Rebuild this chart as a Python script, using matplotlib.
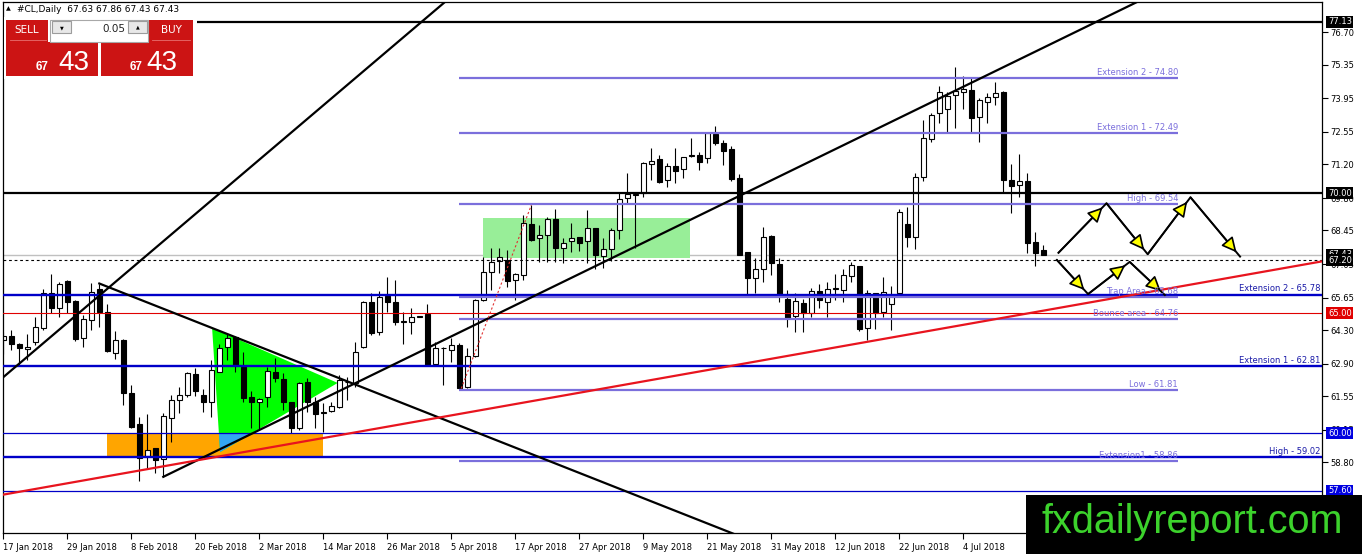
import matplotlib
matplotlib.use('Agg')
import matplotlib.pyplot as plt
from matplotlib.patches import Rectangle, Polygon
import numpy as np

# daily candles of #CL, bar index 0 = 17 Jan 2018
opens = [63.89, 64.05, 63.72, 63.51, 63.79, 64.37, 65.83, 65.21, 66.34, 65.51,
         63.96, 64.72, 66.01, 65.04, 63.33, 63.89, 61.67, 60.38, 59.07, 59.38,
         58.93, 60.63, 61.39, 61.60, 62.46, 61.60, 61.29, 62.57, 63.61, 64.03,
         62.78, 61.50, 61.29, 61.53, 62.54, 62.26, 61.29, 60.24, 62.12, 61.32,
         60.85, 60.93, 61.11, 62.12, 62.08, 63.61, 65.46, 64.23, 65.73, 65.48,
         64.65, 64.62, 64.86, 64.99, 62.87, 63.55, 63.47, 63.68, 61.94, 63.22,
         65.55, 66.71, 67.18, 67.20, 66.39, 66.59, 68.72, 68.12, 68.26, 68.91,
         67.70, 67.99, 68.16, 68.02, 68.54, 67.38, 67.66, 68.47, 69.79, 69.93,
         70.02, 71.20, 71.41, 70.55, 71.13, 70.99, 71.55, 71.59, 71.45, 72.46,
         72.08, 71.83, 70.62, 67.56, 66.45, 66.83, 68.22, 67.05, 65.58, 64.89,
         65.44, 65.02, 65.94, 65.48, 66.02, 65.97, 66.55, 66.97, 64.37, 65.83,
         65.07, 65.37, 65.86, 68.72, 68.16, 70.66, 72.24, 73.33, 73.49, 74.08,
         74.20, 74.30, 73.16, 73.81, 73.99, 74.23, 70.55, 70.35, 70.51, 67.98,
         67.63]
highs = [64.23, 64.30, 63.75, 64.12, 64.86, 66.01, 66.64, 66.32, 66.39, 65.55,
         64.93, 66.25, 66.20, 65.37, 64.26, 63.92, 62.01, 60.69, 60.79, 59.40,
         60.83, 61.60, 61.94, 62.57, 62.71, 61.85, 63.05, 63.71, 64.16, 64.07,
         63.37, 61.76, 61.46, 62.78, 63.12, 62.50, 61.32, 62.15, 62.32, 61.53,
         61.25, 61.32, 62.43, 62.36, 63.82, 65.51, 65.83, 65.94, 66.52, 66.39,
         65.07, 65.21, 64.88, 65.37, 63.82, 63.61, 63.96, 63.75, 63.54, 65.60,
         67.36, 67.70, 67.73, 67.64, 66.66, 69.10, 69.51, 68.68, 69.02, 69.33,
         68.12, 68.74, 68.16, 69.30, 68.54, 68.12, 68.54, 70.00, 70.83, 70.00,
         71.31, 71.87, 71.59, 71.24, 71.87, 71.52, 72.28, 71.73, 72.56, 72.80,
         72.22, 71.97, 70.80, 67.56, 67.29, 68.61, 68.26, 67.29, 65.97, 65.83,
         65.58, 66.04, 66.22, 66.32, 66.64, 66.83, 67.15, 66.97, 65.97, 65.83,
         66.50, 66.15, 69.33, 69.44, 70.83, 73.05, 73.33, 74.46, 74.23, 75.27,
         74.88, 74.78, 73.95, 74.19, 74.65, 74.27, 71.22, 71.62, 70.83, 68.40,
         67.86]
lows = [63.29, 63.47, 62.85, 63.05, 63.68, 64.30, 65.00, 64.86, 65.00, 63.85,
        63.61, 64.30, 64.44, 63.37, 63.10, 61.18, 60.24, 58.02, 58.54, 58.33,
        58.20, 59.65, 60.83, 61.53, 61.57, 60.90, 60.69, 62.57, 63.05, 62.57,
        61.32, 60.21, 60.14, 61.11, 62.15, 60.97, 60.00, 60.14, 60.90, 60.21,
        60.07, 60.90, 61.04, 61.39, 61.94, 63.54, 64.09, 64.09, 65.04, 64.51,
        63.71, 64.12, 64.84, 62.85, 62.85, 62.01, 62.98, 61.85, 61.90, 63.20,
        65.51, 65.97, 66.66, 66.11, 65.55, 66.40, 68.02, 67.15, 67.15, 67.15,
        67.08, 67.57, 67.61, 67.08, 66.83, 66.87, 67.19, 68.08, 69.58, 67.70,
        69.83, 70.55, 70.41, 70.24, 70.41, 70.62, 71.52, 70.97, 71.24, 72.01,
        71.17, 70.52, 67.43, 65.80, 65.83, 66.32, 66.59, 65.48, 64.44, 64.24,
        64.24, 64.86, 65.21, 64.86, 65.55, 65.48, 66.32, 64.28, 63.89, 64.33,
        64.86, 64.30, 65.76, 67.75, 67.66, 70.52, 72.15, 72.91, 72.56, 72.70,
        73.49, 72.56, 72.15, 72.94, 73.67, 70.06, 69.19, 69.83, 67.52, 66.97,
        67.43]
closes = [64.05, 63.71, 63.54, 63.61, 64.44, 65.83, 65.21, 66.20, 65.46, 63.93,
          64.76, 65.90, 65.04, 63.43, 63.89, 61.67, 60.28, 58.99, 59.31, 58.89,
          60.72, 61.39, 61.60, 62.50, 61.76, 61.29, 62.64, 63.54, 63.96, 62.85,
          61.48, 61.29, 61.42, 62.60, 62.32, 61.32, 60.24, 62.08, 61.32, 60.79,
          60.90, 61.14, 62.22, 62.15, 63.37, 65.46, 64.16, 65.69, 65.46, 64.62,
          64.65, 64.86, 64.86, 62.85, 63.54, 63.54, 63.68, 61.87, 63.22, 65.55,
          66.71, 67.15, 67.33, 66.34, 66.64, 68.74, 68.05, 68.26, 68.91, 67.70,
          67.94, 68.12, 67.94, 68.54, 67.43, 67.66, 68.47, 69.75, 69.97, 69.98,
          71.24, 71.35, 70.48, 71.13, 70.94, 71.49, 71.58, 71.31, 72.52, 72.08,
          71.77, 70.58, 67.43, 66.45, 66.83, 68.19, 67.08, 65.76, 64.79, 65.53,
          65.00, 65.93, 65.55, 66.02, 66.04, 66.60, 67.01, 64.33, 65.83, 65.03,
          65.87, 65.76, 69.23, 68.16, 70.66, 72.28, 73.26, 74.23, 74.05, 74.27,
          74.33, 73.12, 73.88, 73.99, 74.16, 70.55, 70.30, 70.52, 67.94, 67.52,
          67.43]

date_labels = ['17 Jan 2018', '29 Jan 2018', '8 Feb 2018', '20 Feb 2018', '2 Mar 2018',
               '14 Mar 2018', '26 Mar 2018', '5 Apr 2018', '17 Apr 2018', '27 Apr 2018',
               '9 May 2018', '21 May 2018', '31 May 2018', '12 Jun 2018', '22 Jun 2018',
               '4 Jul 2018']
date_pos = [0, 8, 16, 24, 32, 40, 48, 56, 64, 72, 80, 88, 96, 104, 112, 120]
price_ticks = [76.70, 75.35, 73.95, 72.55, 71.20, 69.80, 68.45, 67.05, 65.65,
               64.30, 62.90, 61.55, 60.15, 58.80, 57.45]

# horizontal levels
blue_levels = [65.78, 62.81, 59.02]
blue_labels = ['Extension 2 - 65.78', 'Extension 1 - 62.81', 'High - 59.02']
blue_thin = [60.00, 57.60]
black_levels = [77.13, 70.00]
red_level = 65.00
bid_price = 67.43
dash_level = 67.20
fib_levels = [74.80, 72.49, 69.54, 65.68, 64.76, 61.81, 58.86]
fib_labels = ['Extension 2 - 74.80', 'Extension 1 - 72.49', 'High - 69.54',
              'Trap Area - 65.68', 'Bounce area - 64.76', 'Low - 61.81',
              'Extension1 - 58.86']
fib_start, fib_end = 57.0, 146.85
axis_boxes = [(77.13, 'black'), (70.00, 'black'), (67.43, 'black'), (67.20, 'black'),
              (65.00, '#e00000'), (60.00, '#0000e0'), (57.60, '#0000e0')]

# drawing objects (bar index, price)
trend_a = [(0, 62.34), (57, 78.47)]
trend_b = [(12, 66.24), (95, 55.33)]
trend_c = [(20, 58.19), (143, 78.17)]
trend_red = [(-1, 57.39), (166, 67.23)]
dotted_red = [(57.25, 61.87), (66, 69.5)]
orange_box = (13.0, 40.0, 59.02, 60.00)
green_box = (60.0, 85.9, 67.30, 68.96)
green_tri = [(26.1, 64.39), (41.8, 62.10), (27.1, 59.22)]
path_up = [(131.9, 67.52), (137.9, 69.58), (143.05, 67.46), (148.4, 69.83), (154.6, 67.36)]
path_down = [(131.7, 67.22), (135.6, 65.80), (140.8, 67.14), (145.2, 65.76)]

W, H = 1362, 554
fig = plt.figure(figsize=(W / 100, H / 100), dpi=100)
ax = fig.add_axes([3 / W, 21 / H, 1319 / W, 531 / H])
ax.set_xlim(-0.0375, 164.84)
ax.set_ylim(55.851, 77.962)
for s in ax.spines.values():
    s.set_linewidth(0.9)
    s.set_color('black')

# shapes in the background
ax.axhline(bid_price, color='#c0c0c0', lw=1, zorder=0.5)
ob = Rectangle((orange_box[0], orange_box[2]), orange_box[1] - orange_box[0],
               orange_box[3] - orange_box[2], fc='#ffa500', ec='none', zorder=1)
ax.add_patch(ob)
ax.add_patch(Rectangle((green_box[0], green_box[2]), green_box[1] - green_box[0],
                       green_box[3] - green_box[2], fc='#98ee98', ec='none', zorder=1))
ax.add_patch(Polygon(green_tri, closed=True, fc='#00ff00', ec='none', zorder=1.1))
blue_part = Polygon(green_tri, closed=True, fc='#33a6f2', ec='none', zorder=1.2)
ax.add_patch(blue_part)
blue_part.set_clip_path(ob)

# candles
idx = np.arange(len(opens))
o = np.array(opens); c = np.array(closes)
ax.vlines(idx, lows, highs, color='black', lw=0.8, zorder=2)
bull = c >= o
body = np.maximum(np.abs(c - o), 0.015)
ax.bar(idx, body, bottom=np.minimum(o, c), width=0.625,
       color=np.where(bull, 'white', 'black'), edgecolor='black', lw=0.8, zorder=2.1)

# horizontal levels
for lv in black_levels:
    ax.axhline(lv, color='black', lw=1.6, zorder=3)
ax.axhline(red_level, color='#e00000', lw=0.8, zorder=3)
ax.axhline(dash_level, color='black', lw=0.8, ls=(0, (2.5, 2.5)), zorder=3)
for lv in blue_thin:
    ax.axhline(lv, color='#0000c8', lw=0.9, zorder=3)
for lv, lab in zip(blue_levels, blue_labels):
    ax.axhline(lv, color='#0000c8', lw=1.7, zorder=3)
    ax.annotate(lab, xy=(0.9985, lv), xycoords=('axes fraction', 'data'),
                xytext=(0, 0.8), textcoords='offset points', ha='right', va='bottom',
                color='#1a1aa8', fontsize=6, zorder=4.5)
ax.hlines(fib_levels, fib_start, fib_end, color='#7b6fdc', lw=1.6, zorder=3)
for lv, lab in zip(fib_levels, fib_labels):
    ax.annotate(lab, xy=(fib_end, lv), xytext=(0, 0.8), textcoords='offset points',
                ha='right', va='bottom', color='#7b6fdc', fontsize=6, zorder=4.5)

# trend lines
for ln in (trend_a, trend_b, trend_c):
    ax.plot([p[0] for p in ln], [p[1] for p in ln], color='black', lw=1.6, zorder=3.5)
ax.plot([p[0] for p in trend_red], [p[1] for p in trend_red], color='#e8141e', lw=1.6, zorder=3.5)
ax.plot([p[0] for p in dotted_red], [p[1] for p in dotted_red], color='#e03030', lw=0.8,
        ls=(0, (2, 2)), zorder=3.5)

# projected paths: full black legs, yellow heads just short of each turn
for path in (path_up, path_down):
    ax.plot([p[0] for p in path], [p[1] for p in path], color='black', lw=1.4,
            zorder=4, clip_on=False)
    for a, b in zip(path[:-1], path[1:]):
        ax.annotate('', xy=b, xytext=a, annotation_clip=False,
                    arrowprops=dict(arrowstyle='-|>,head_length=0.9,head_width=0.45',
                                    fc='#ffff00', ec='black', lw=1.2, mutation_scale=10,
                                    shrinkA=0, shrinkB=4),
                    zorder=4.1)

# axes ticks
ax.set_xticks(date_pos)
ax.set_xticklabels(date_labels, ha='left', fontsize=6)
ax.tick_params(axis='x', direction='out', length=4, pad=3, width=0.8)
ax.set_yticks(price_ticks)
ax.set_yticklabels(['%.2f' % v for v in price_ticks], fontsize=6)
ax.yaxis.tick_right()
ax.tick_params(axis='y', direction='out', length=4, pad=2, width=0.8)

for lv, col in axis_boxes:
    ax.text(1.0045, lv, '%.2f' % lv, transform=ax.get_yaxis_transform(), ha='left',
            va='center', fontsize=6, color='white', clip_on=False, zorder=10,
            bbox=dict(fc=col, ec='none', boxstyle='square,pad=0.18'))

# overlay: header, trade panel, watermark
ov = fig.add_axes([0, 0, 1, 1], zorder=5)
ov.set_xlim(0, W)
ov.set_ylim(H, 0)
ov.axis('off')
ov.patch.set_alpha(0)
ov.text(8, 9, '\u25b2', fontsize=4.5, ha='center', va='center')
ov.text(17, 9, '#CL,Daily  67.63 67.86 67.43 67.43', fontsize=6.5, va='center')

red = '#cc1414'
ov.add_patch(Rectangle((4, 17), 193, 62, fc='white', ec='none'))
ov.add_patch(Rectangle((6, 20), 42, 22, fc=red, ec='none'))
ov.add_patch(Rectangle((149, 20), 44, 22, fc=red, ec='none'))
ov.add_patch(Rectangle((6, 42), 92, 34, fc=red, ec='none'))
ov.add_patch(Rectangle((101, 42), 92, 34, fc=red, ec='none'))
ov.plot([10, 46], [40, 40], color='#e87070', lw=0.6)
ov.plot([152, 190], [40, 40], color='#e87070', lw=0.6)
ov.add_patch(Rectangle((50, 20), 98, 22, fc='white', ec='#a8a8a8', lw=0.8))
ov.add_patch(Rectangle((52, 21), 19, 12, fc='#e8e8e8', ec='#9c9c9c', lw=0.8))
ov.add_patch(Rectangle((128, 21), 19, 12, fc='#e8e8e8', ec='#9c9c9c', lw=0.8))
ov.text(61.5, 27.5, '\u25bc', fontsize=3.5, ha='center', va='center')
ov.text(137.5, 27, '\u25b2', fontsize=3.5, ha='center', va='center')
ov.text(125, 29, '0.05', fontsize=7.5, ha='right', va='center', color='#222222')
ov.text(27, 30, 'SELL', fontsize=7.5, ha='center', va='center', color='white')
ov.text(171, 30, 'BUY', fontsize=7.5, ha='center', va='center', color='white')
for x67, x43 in ((49, 58), (143, 146)):
    ov.text(x67, 70, '67', fontsize=8.5, fontweight='bold', ha='right', va='baseline',
            color='white', family='Liberation Sans')
    ov.text(x43, 70, '43', fontsize=20, ha='left', va='baseline', color='white',
            family='Liberation Sans')

ov.add_patch(Rectangle((1026, 495), 336, 59, fc='black', ec='none'))
ov.text(1042, 533, 'fxdailyreport.com', fontsize=28.5, color='#3cd22c', ha='left',
        va='baseline', family='Liberation Sans')

fig.savefig('out.png', dpi=100)
